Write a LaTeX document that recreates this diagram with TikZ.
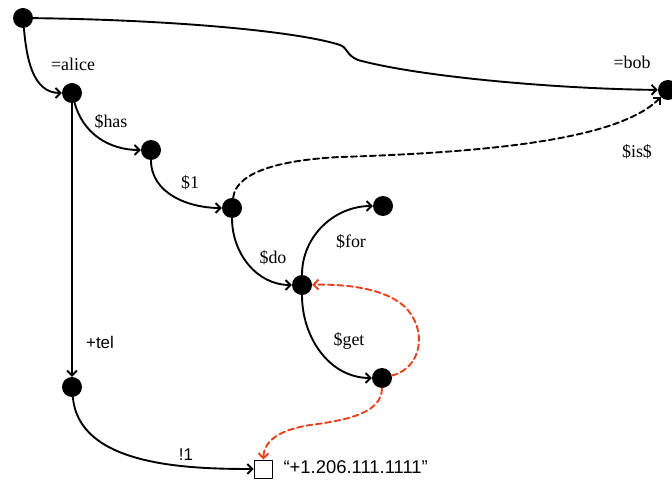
\documentclass[tikz,border=0pt]{standalone}
\usepackage{fontspec}
\setmainfont{Liberation Serif}
\setsansfont{Liberation Sans}
\usetikzlibrary{arrows.meta}
\definecolor{walkred}{HTML}{E8401C}
\tikzset{
    dot/.style={circle, fill=black, inner sep=0pt, minimum size=20bp},
    leaf/.style={rectangle, draw=black, line width=0.9pt, inner sep=0pt, minimum size=18bp},
    edge/.style={line width=1.9pt, -{Straight Barb[length=5pt,width=10pt]}},
    walk/.style={edge, walkred, dash pattern=on 6pt off 3.5pt},
    lab/.style={font=\fontsize{18}{20}\selectfont},
    slab/.style={font=\sffamily\fontsize{17}{20}\selectfont}
}

\begin{document}
\begin{tikzpicture}[x=1bp, y=1bp, line cap=round, line join=round]

\useasboundingbox (0,0) rectangle (672,-484);

% tree nodes
\node[dot] (root) at (23,-18) {};
\node[dot] (alice) at (72,-93) {};
\node[dot] (bob) at (668,-90) {};
\node[dot] (has) at (151,-150) {};
\node[dot] (one) at (232,-208) {};
\node[dot] (forn) at (383,-206) {};
\node[dot] (don) at (302,-285) {};
\node[dot] (getn) at (382,-378) {};
\node[dot] (tel) at (72,-387) {};
\node[leaf] (val) at (263,-469) {};
\node[slab, font=\sffamily\fontsize{18.5}{20}\selectfont, anchor=west] (valtext) at (280,-467) {“+1.206.111.1111”};

% solid edges
\draw[edge] (root) to[out=-85, in=180] (alice);
\draw[edge] (root) .. controls (180,-20) and (300,-32) .. (340,-45)
    .. controls (348,-48) and (346,-55) .. (358,-60)
    .. controls (420,-77) and (560,-89) .. (bob);
\draw[edge] (alice) to[out=-75, in=180] (has);
\draw[edge] (has) to[out=-90, in=180] (one);
\draw[edge] (one) to[out=-90, in=180] (don);
\draw[edge] (don) to[out=90, in=180] (forn);
\draw[edge] (don) to[out=-90, in=180] (getn);
\draw[edge] (alice) -- (tel);
\draw[edge] (tel) to[out=-85, in=180, looseness=0.9] (val);

% links
\draw[edge, dash pattern=on 6pt off 3.5pt] (one) .. controls (236,-172) and (280,-160) .. (340,-157)
    .. controls (500,-152) and (620,-138) .. (bob);
\draw[walk] (getn) .. controls (422,-368) and (428,-330) .. (405,-307)
    .. controls (385,-288) and (345,-284) .. (don);
\draw[walk] (getn) .. controls (382,-412) and (350,-420) .. (310,-425)
    .. controls (280,-430) and (264,-440) .. (val);

% edge labels
\node[lab] (lalice) at (73,-64) {=alice};
\node[lab] (lbob) at (632,-62) {=bob};
\node[lab] (lhas) at (111,-122) {\$has};
\node[lab] (lone) at (190,-183) {\$1};
\node[lab] (lis) at (637,-152) {\$is\$};
\node[lab] (lfor) at (351,-242) {\$for};
\node[lab] (ldo) at (273,-258) {\$do};
\node[lab] (lget) at (349,-341) {\$get};
\node[slab] (ltel) at (100,-342) {+tel};
\node[slab] (lbang) at (186,-455) {!1};

\end{tikzpicture}
\end{document}
